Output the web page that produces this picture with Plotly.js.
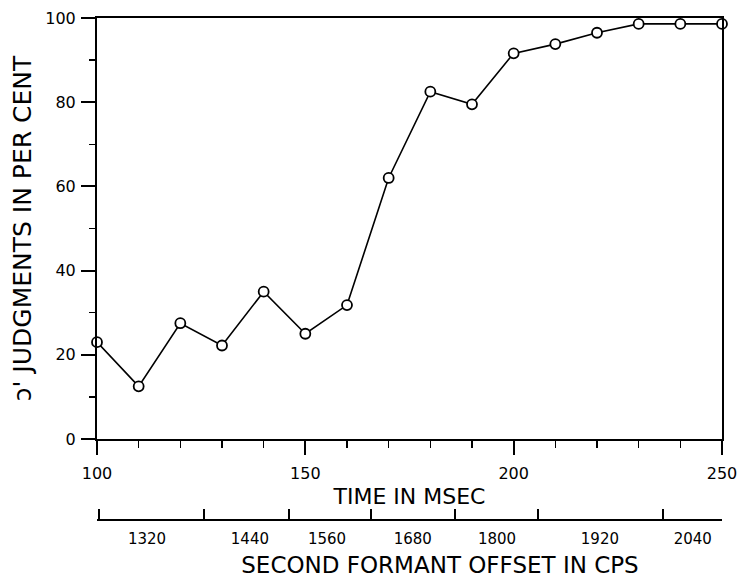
<!DOCTYPE html>
<html><head><meta charset="utf-8">
<script src="https://cdn.plot.ly/plotly-3.0.1.min.js"></script>
<style>body{margin:0;background:#fff}#chart{width:746px;height:578px}</style>
</head><body><div id="chart"></div>
<script>
const timeMs = [100,110,120,130,140,150,160,170,180,190,200,210,220,230,240,250];
const judgmentsPct = [23,12.5,27.5,22.2,35,25,31.8,62,82.5,79.5,91.6,93.8,96.5,98.6,98.6,98.6];
const timeTicks = [100,150,200,250];
const pctTicks = [0,20,40,60,80,100];
const formantLabels = ['1320','1440','1560','1680','1800','1920','2040'];
const formantLabelPos = [112,136.7,155.2,175.8,196,220.7,243];
const formantTickPos = [100.5,125.7,146.1,165.8,185.9,205.8,235.8,250];

const FONT = 'DejaVu Sans, sans-serif';
const W = 746, H = 578, ML = 97, MR = 0, MT = 18, MB = 58;
const plotRightPx = 722;                 // where 250 ms sits
const paperW = W - ML - MR;
const xDomEnd = (plotRightPx - ML) / paperW;
const tRange = [100, 250];
const msPerPx = (tRange[1] - tRange[0]) / (plotRightPx - ML);
const tAt = px => tRange[0] + (px - ML) * msPerPx;
// label axis spans a slightly shifted band so its title sits where the original's does
const lblPx = [140, 740];

const trace = {
  x: timeMs, y: judgmentsPct, type:'scatter', mode:'lines+markers',
  line:{color:'#000', width:1.6},
  marker:{symbol:'circle', size:10, color:'#fff', line:{color:'#000', width:1.8}},
  cliponaxis:false, hoverinfo:'skip', showlegend:false
};
const helper2 = {x: formantTickPos, y: formantTickPos.map(()=>null), xaxis:'x2', yaxis:'y',
  type:'scatter', mode:'markers', hoverinfo:'skip', showlegend:false};
const helper3 = {x: formantLabelPos, y: formantLabelPos.map(()=>null), xaxis:'x3', yaxis:'y',
  type:'scatter', mode:'markers', hoverinfo:'skip', showlegend:false};
const layout = {
  width:W, height:H,
  margin:{l:ML, r:MR, t:MT, b:MB},
  paper_bgcolor:'#fff', plot_bgcolor:'rgba(0,0,0,0)',
  font:{family:FONT, color:'#000'},
  showlegend:false,
  xaxis:{domain:[0, xDomEnd], range:tRange, anchor:'y', tickmode:'array', tickvals:timeTicks,
    ticks:'outside', ticklen:14, tickwidth:2, tickcolor:'#000',
    showline:true, mirror:true, linewidth:2, linecolor:'#000',
    showgrid:false, zeroline:false,
    minor:{tickmode:'linear', tick0:100, dtick:10, ticks:'outside', ticklen:7, tickwidth:1.5, tickcolor:'#000'},
    tickfont:{size:16}, ticklabelstandoff:5,
    title:{text:'TIME IN MSEC', font:{size:22}, standoff:6}},
  yaxis:{domain:[0.1614,1], range:[0,100], tickmode:'array', tickvals:pctTicks,
    ticks:'outside', ticklen:14, tickwidth:2, tickcolor:'#000',
    showline:true, mirror:true, linewidth:2, linecolor:'#000',
    showgrid:false, zeroline:false,
    minor:{tickmode:'linear', tick0:0, dtick:10, ticks:'outside', ticklen:6, tickwidth:1.5, tickcolor:'#000'},
    tickfont:{size:16}, ticklabelstandoff:2,
    title:{text:"ɔ' JUDGMENTS IN PER CENT", font:{size:25}, standoff:6}},
  xaxis2:{overlaying:'x', anchor:'free', position:0, range:tRange,
    tickmode:'array', tickvals:formantTickPos, ticktext:formantTickPos.map(()=>''),
    ticks:'inside', ticklen:10, tickwidth:2, tickcolor:'#000',
    showline:true, linewidth:2, linecolor:'#000', showgrid:false, zeroline:false},
  xaxis3:{anchor:'free', position:0,
    domain:[(lblPx[0]-ML)/paperW, (lblPx[1]-ML)/paperW], range:[tAt(lblPx[0]), tAt(lblPx[1])],
    tickmode:'array', tickvals:formantLabelPos, ticktext:formantLabels,
    ticks:'', showline:false, showgrid:false, zeroline:false,
    tickfont:{size:15}, ticklabelstandoff:8,
    title:{text:'SECOND FORMANT OFFSET IN CPS', font:{size:23}, standoff:12}}
};
Plotly.newPlot('chart', [helper2, helper3, trace], layout, {staticPlot:true, displayModeBar:false});
</script></body></html>
